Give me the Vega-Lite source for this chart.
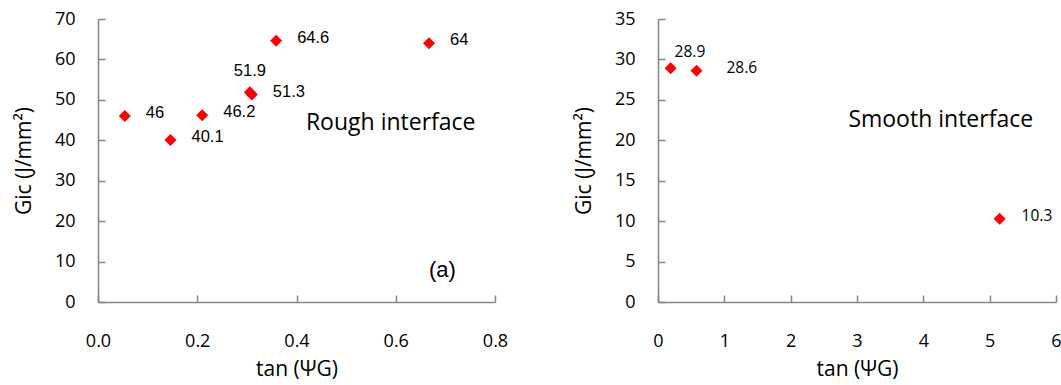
{
  "$schema": "https://vega.github.io/schema/vega-lite/v6.json",
  "background": "white",
  "padding": {"left": 13, "top": 10, "right": 4, "bottom": 5},
  "bounds": "flush",
  "spacing": 163,
  "config": {
    "view": {"stroke": null},
    "axis": {
      "grid": false,
      "domainColor": "#868686",
      "domainWidth": 1.5,
      "tickColor": "#868686",
      "tickWidth": 1.5,
      "tickSize": -7,
      "labelFont": "Open Sans",
      "labelFontSize": 18,
      "labelColor": "#000000",
      "titleFont": "Open Sans",
      "titleFontSize": 21,
      "titleFontWeight": "normal",
      "titleColor": "#000000"
    },
    "axisX": {"labelPadding": 37, "titlePadding": 8, "labelFlush": false},
    "axisY": {"labelPadding": 30, "titlePadding": 20}
  },
  "datasets": {
    "rough": [
      {"tan": 0.054, "G": 46.0, "label": "46"},
      {"tan": 0.146, "G": 40.1, "label": "40.1"},
      {"tan": 0.210, "G": 46.2, "label": "46.2"},
      {"tan": 0.306, "G": 51.9, "label": "51.9"},
      {"tan": 0.310, "G": 51.3, "label": "51.3"},
      {"tan": 0.359, "G": 64.6, "label": "64.6"},
      {"tan": 0.667, "G": 64.0, "label": "64"}
    ],
    "smooth": [
      {"tan": 0.19, "G": 28.9, "label": "28.9"},
      {"tan": 0.58, "G": 28.6, "label": "28.6"},
      {"tan": 5.15, "G": 10.3, "label": "10.3"}
    ],
    "notes": [
      {"panel": "rough", "note": "Rough interface"},
      {"panel": "rough", "note": "(a)"},
      {"panel": "smooth", "note": "Smooth interface"}
    ]
  },
  "hconcat": [
    {
      "width": 397,
      "height": 283,
      "layer": [
        {"data": {"name": "rough"},
         "mark": {"type": "point", "shape": "diamond", "filled": true, "size": 144, "color": "#FF0000", "opacity": 1},
         "encoding": {
           "x": {"field": "tan", "type": "quantitative", "scale": {"domain": [0, 0.8], "nice": false},
                 "axis": {"values": [0, 0.2, 0.4, 0.6, 0.8], "format": ".1f", "title": "tan (ΨG)"}},
           "y": {"field": "G", "type": "quantitative", "scale": {"domain": [0, 70], "nice": false},
                 "axis": {"values": [0, 10, 20, 30, 40, 50, 60, 70], "title": "Gic (J/mm²)"}}
         }},
        {"data": {"name": "rough"},
         "transform": [{"filter": "datum.label != '51.9'"}],
         "mark": {"type": "text", "align": "left", "baseline": "middle", "dx": 21, "dy": -3, "font": "Liberation Sans", "fontSize": 16.5, "fontWeight": "normal", "color": "#000000"},
         "encoding": {"x": {"field": "tan", "type": "quantitative"}, "y": {"field": "G", "type": "quantitative"}, "text": {"field": "label"}}},
        {"data": {"name": "rough"},
         "transform": [{"filter": "datum.label == '51.9'"}],
         "mark": {"type": "text", "align": "center", "baseline": "middle", "dy": -21, "font": "Liberation Sans", "fontSize": 16.5, "fontWeight": "normal", "color": "#000000"},
         "encoding": {"x": {"field": "tan", "type": "quantitative"}, "y": {"field": "G", "type": "quantitative"}, "text": {"field": "label"}}},
        {"data": {"name": "notes"},
         "transform": [{"filter": "datum.note == 'Rough interface'"}],
         "mark": {"type": "text", "align": "left", "baseline": "middle", "font": "Open Sans", "fontSize": 23, "fontWeight": "normal", "color": "#000000"},
         "encoding": {"x": {"datum": 0.419}, "y": {"datum": 44.2}, "text": {"field": "note"}}},
        {"data": {"name": "notes"},
         "transform": [{"filter": "datum.note == '(a)'"}],
         "mark": {"type": "text", "align": "left", "baseline": "middle", "font": "Liberation Sans", "fontSize": 22, "fontWeight": "normal", "color": "#000000"},
         "encoding": {"x": {"datum": 0.667}, "y": {"datum": 7.9}, "text": {"field": "note"}}}
      ]
    },
    {
      "width": 398,
      "height": 283,
      "layer": [
        {"data": {"name": "smooth"},
         "mark": {"type": "point", "shape": "diamond", "filled": true, "size": 144, "color": "#FF0000", "opacity": 1},
         "encoding": {
           "x": {"field": "tan", "type": "quantitative", "scale": {"domain": [0, 6], "nice": false},
                 "axis": {"values": [0, 1, 2, 3, 4, 5, 6], "format": "d", "title": "tan (ΨG)"}},
           "y": {"field": "G", "type": "quantitative", "scale": {"domain": [0, 35], "nice": false},
                 "axis": {"values": [0, 5, 10, 15, 20, 25, 30, 35], "title": "Gic (J/mm²)"}}
         }},
        {"data": {"name": "smooth"},
         "transform": [{"filter": "datum.label == '28.9'"}],
         "mark": {"type": "text", "align": "left", "baseline": "middle", "dx": 4, "dy": -16, "font": "Open Sans", "fontSize": 15.5, "fontWeight": "normal", "color": "#000000"},
         "encoding": {"x": {"field": "tan", "type": "quantitative"}, "y": {"field": "G", "type": "quantitative"}, "text": {"field": "label"}}},
        {"data": {"name": "smooth"},
         "transform": [{"filter": "datum.label == '28.6'"}],
         "mark": {"type": "text", "align": "left", "baseline": "middle", "dx": 30, "dy": -3, "font": "Open Sans", "fontSize": 15.5, "fontWeight": "normal", "color": "#000000"},
         "encoding": {"x": {"field": "tan", "type": "quantitative"}, "y": {"field": "G", "type": "quantitative"}, "text": {"field": "label"}}},
        {"data": {"name": "smooth"},
         "transform": [{"filter": "datum.label == '10.3'"}],
         "mark": {"type": "text", "align": "left", "baseline": "middle", "dx": 22, "dy": -3, "font": "Open Sans", "fontSize": 15.5, "fontWeight": "normal", "color": "#000000"},
         "encoding": {"x": {"field": "tan", "type": "quantitative"}, "y": {"field": "G", "type": "quantitative"}, "text": {"field": "label"}}},
        {"data": {"name": "notes"},
         "transform": [{"filter": "datum.note == 'Smooth interface'"}],
         "mark": {"type": "text", "align": "left", "baseline": "middle", "font": "Open Sans", "fontSize": 23, "fontWeight": "normal", "color": "#000000"},
         "encoding": {"x": {"datum": 2.87}, "y": {"datum": 22.5}, "text": {"field": "note"}}}
      ]
    }
  ]
}
